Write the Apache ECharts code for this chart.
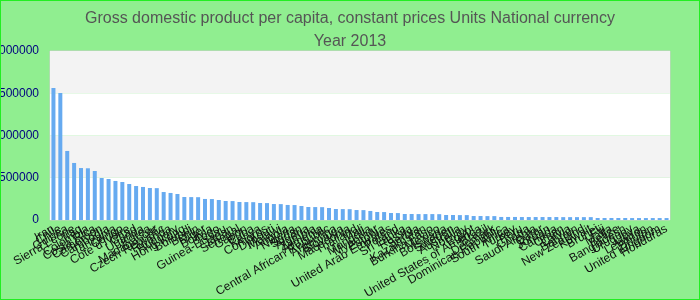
<!DOCTYPE html>
<html>
<head>
<meta charset="utf-8">
<script src="https://cdn.jsdelivr.net/npm/echarts@6/dist/echarts.min.js"></script>
<style>
html,body{margin:0;padding:0;background:#90ee90;}
#wrap{position:relative;width:700px;height:300px;}
#chart{width:700px;height:300px;}
#frame{position:absolute;left:0;top:0;width:700px;height:300px;box-sizing:border-box;border:1px solid #22ee22;pointer-events:none;}
</style>
</head>
<body>
<div id="wrap"><div id="chart"></div><div id="frame"></div></div>
<script>
const titleText = 'Gross domestic product per capita, constant prices Units National currency\nYear 2013';

const categories = [
  'Iran','Chile','Guinea','Sierra Leone','Iraq','Colombia','Costa Rica','Cameroon','Cambodia','Tanzania',
  'Congo','Cote d\'Ivoire','Chad','Uganda','Korea','Madagascar','Czech Republic','Rwanda','Hungary','Hong Kong',
  'Burundi','Benin','Niger','Bolivia','Togo','Guinea-Bissau','Japan','Senegal','Gabon','Cuba',
  'Kenya','Comoros','Djibouti','Malawi','Angola','Nigeria','Sudan','Algeria','Zambia','Armenia',
  'Central African Republic','Argentina','Slovakia','Macedonia','Thailand','Mali','Mongolia','Myanmar','Estonia','United Arab Emirates',
  'Poland','Sri Lanka','Russia','Serbia','Kazakhstan','Burkina Faso','Mexico','Botswana','Sweden','Australia',
  'Norway','Egypt','United States of America','Brazil','Denmark','Dominican Republic','South Africa','Turkey','Peru','Ghana',
  'Saudi Arabia','Qatar','Jordan','Canada','Oman','Latvia','Bahrain','New Zealand','Kuwait','Brunei',
  'Fiji','Malta','Belize','Bangladesh','Uruguay','Libya','Lebanon','Bhutan','United Kingdom','Honduras'
];

const values = [
  1562000,1503000,817000,675000,615000,612000,580000,497000,485000,462000,
  450000,426000,402000,391000,379000,377000,331000,320000,308000,272000,
  271000,270000,249000,248000,237000,225000,224000,213000,212000,211000,
  201000,200000,189000,188000,178000,177000,166000,154000,153000,152000,
  142000,130000,129000,128000,118000,117000,107000,95000,94000,83000,
  82000,71000,71000,70000,70000,70000,69000,59000,59000,58000,
  58000,47000,47000,46000,46000,36000,36000,36000,35000,35000,
  35000,35000,35000,35000,34000,34000,34000,34000,34000,24000,
  24000,24000,24000,24000,23000,23000,23000,23000,23000,23000
];

const yTicks = { min: 0, max: 2000000, interval: 500000 };

const chart = echarts.init(document.getElementById('chart'), null, { renderer: 'canvas' });
chart.setOption({
  backgroundColor: '#90ee90',
  animation: false,
  title: {
    text: titleText,
    left: 'center',
    top: 2,
    textStyle: { fontSize: 16, fontWeight: 'normal', color: '#555', lineHeight: 23, fontFamily: 'Liberation Sans, Arial, sans-serif' }
  },
  grid: { left: 50, right: 30, top: 51, bottom: 80, containLabel: false, outerBoundsMode: 'none', show: true, borderColor: '#cccccc', borderWidth: 1, backgroundColor: 'transparent' },
  xAxis: {
    type: 'category',
    data: categories,
    axisLine: { show: false },
    axisTick: { show: false },
    axisLabel: { interval: 0, rotate: 30, fontSize: 12, color: '#111', margin: 8, fontFamily: 'Liberation Sans, Arial, sans-serif' }
  },
  yAxis: {
    type: 'value',
    min: yTicks.min, max: yTicks.max, interval: yTicks.interval,
    axisLine: { show: false },
    axisTick: { show: false },
    splitLine: { show: false },
    splitArea: { show: true, areaStyle: { color: ['#ffffff', '#f3f3f3'] } },
    axisLabel: { color: '#000080', fontSize: 12, margin: 11, fontFamily: 'Liberation Sans, Arial, sans-serif', formatter: function (v) { return String(v); } }
  },
  series: [{
    type: 'bar',
    data: values,
    barWidth: 4,
    itemStyle: { color: '#66aaf0' }
  }]
});
</script>
</body>
</html>
